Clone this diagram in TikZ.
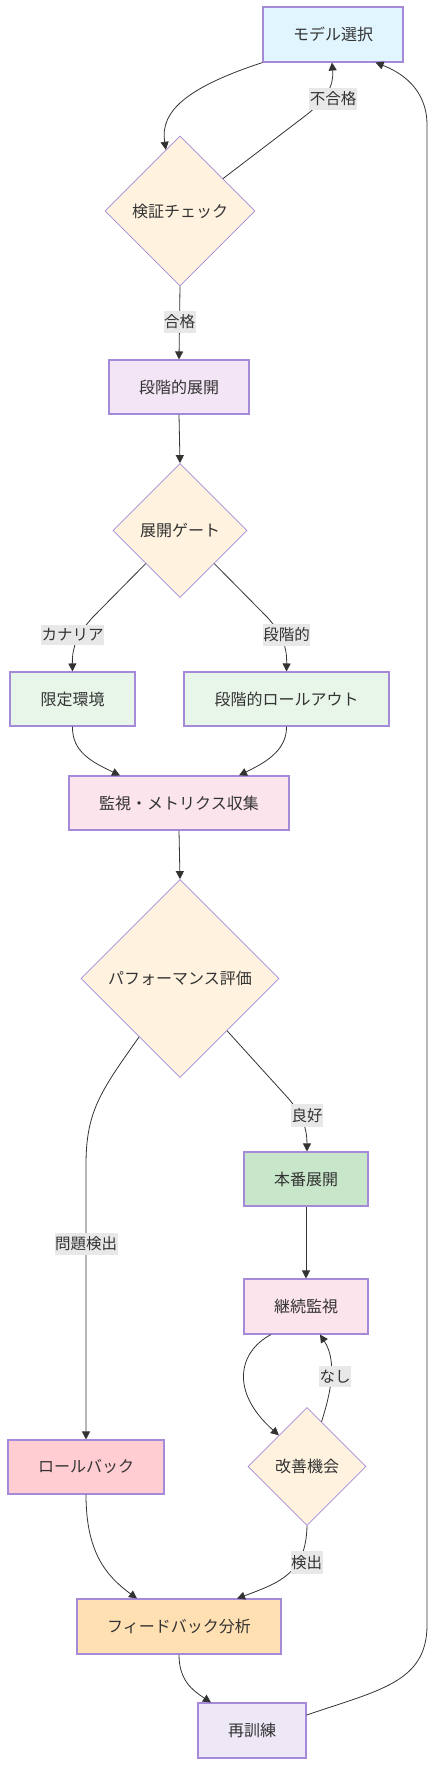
\documentclass[tikz,border=0pt]{standalone}
\usepackage{fontspec}
\setmainfont{Noto Sans CJK JP}
\usetikzlibrary{shapes.geometric,arrows.meta}
\definecolor{txt}{HTML}{333333}
\definecolor{edgec}{HTML}{333333}
\definecolor{bord}{HTML}{A48AD8}
\definecolor{lblbg}{HTML}{E8E8E8}
\definecolor{cblue}{HTML}{E1F5FE}
\definecolor{corange}{HTML}{FFF3E0}
\definecolor{cpurple}{HTML}{F3E5F5}
\definecolor{cgreen}{HTML}{E8F5E9}
\definecolor{cpink}{HTML}{FCE4EC}
\definecolor{cgreen2}{HTML}{C8E6C9}
\definecolor{cred}{HTML}{FFCDD2}
\definecolor{cpeach}{HTML}{FFE0B2}
\definecolor{clav}{HTML}{EDE7F6}
\tikzset{
  box/.style={rectangle, draw=bord, line width=1.1pt, inner sep=0pt, text=txt,
    font=\fontsize{16}{19}\selectfont, minimum height=54pt},
  dia/.style={diamond, aspect=1, draw=bord, line width=0.7pt, inner sep=0pt, text=txt,
    fill=corange, font=\fontsize{16}{19}\selectfont, minimum width=#1, minimum height=#1},
  lbl/.style={fill=lblbg, text=txt, inner xsep=0.5pt, inner ysep=4pt,
    font=\fontsize{15.5}{18}\selectfont},
  conn/.style={draw=edgec, line width=0.8pt, -{Triangle[length=8pt,width=8pt]}},
}
\begin{document}
\begin{tikzpicture}[x=1pt,y=-1pt]
\useasboundingbox (0,0) rectangle (436,1766);
\fill[white] (0,0) rectangle (436,1766);

% nodes
\node[box, fill=cblue, minimum width=140pt, minimum height=55pt] (sel) at (333,34.5) {モデル選択};
\node[dia=150pt] (chk) at (180,211) {検証チェック};
\node[box, fill=cpurple, minimum width=140pt] (stg) at (179,387) {段階的展開};
\node[dia=134pt] (gate) at (180,530.5) {展開ゲート};
\node[box, fill=cgreen, minimum width=125pt] (can) at (72.5,699) {限定環境};
\node[box, fill=cgreen, minimum width=205pt] (roll) at (286.5,699) {段階的ロールアウト};
\node[box, fill=cpink, minimum width=220pt] (mon) at (179,803) {監視・メトリクス収集};
\node[dia=198pt] (perf) at (180,978.5) {パフォーマンス評価};
\node[box, fill=cgreen2, minimum width=124pt] (prod) at (306,1179) {本番展開};
\node[box, fill=cpink, minimum width=124pt, minimum height=55pt] (cont) at (306,1306.5) {継続監視};
\node[dia=118pt] (imp) at (307,1466.5) {改善機会};
\node[box, fill=cred, minimum width=156pt] (rb) at (86,1467) {ロールバック};
\node[box, fill=cpeach, minimum width=204pt, minimum height=55pt] (fb) at (179,1626.5) {フィードバック分析};
\node[box, fill=clav, minimum width=108pt, minimum height=55pt] (re) at (252,1730.5) {再訓練};

% edges
\draw[conn] (sel.south west) .. controls (185,88) and (160,112) .. (chk.103);
\draw[conn] (chk.37) -- (305,116) .. controls (326,100) and (334,86) .. ([xshift=-1pt]sel.south);
\draw[conn] (chk.south) -- (stg.north);
\draw[conn] (stg.south) -- (gate.north);
\draw[conn] (gate.224) -- (92,618) .. controls (78,634) and (72,646) .. (can.north);
\draw[conn] (gate.316) -- (268,618) .. controls (282,634) and (287,646) .. (roll.north);
\draw[conn] (can.south) .. controls (72,752) and (92,762) .. ([xshift=-59pt]mon.north);
\draw[conn] (roll.south) .. controls (287,752) and (262,764) .. ([xshift=60pt]mon.north);
\draw[conn] (mon.south) -- (perf.north);
\draw[conn] (perf.312) -- (288,1098) .. controls (302,1114) and (307,1128) .. ([xshift=1pt]prod.north);
\draw[conn] (perf.235) .. controls (100,1092) and (86,1112) .. (86,1165) -- (rb.north);
\draw[conn] (prod.south) -- (cont.north);
\draw[conn] ([xshift=-35pt]cont.south) .. controls (238,1352) and (230,1392) .. (imp.132);
\draw[conn] (imp.72) .. controls (330,1395) and (338,1362) .. ([xshift=14pt]cont.south);
\draw[conn] (imp.south) .. controls (306,1572) and (282,1582) .. ([xshift=58pt]fb.north);
\draw[conn] (rb.south) .. controls (86,1552) and (106,1576) .. ([xshift=-42pt]fb.north);
\draw[conn] (fb.south) .. controls (179,1680) and (192,1690) .. ([xshift=-41pt]re.north);
\draw[conn] ([yshift=15.5pt]re.east) .. controls (380,1690) and (427,1682) .. (427,1625) -- (427,125) .. controls (427,88) and (400,72) .. ([xshift=-28pt]sel.south east);

% edge labels
\node[lbl] (l1) at (333,99) {不合格};
\node[lbl] (l2) at (179.5,322) {合格};
\node[lbl] (l3) at (72.5,635) {カナリア};
\node[lbl] (l4) at (286.5,635) {段階的};
\node[lbl] (l5) at (307,1115.5) {良好};
\node[lbl] (l6) at (86,1244) {問題検出};
\node[lbl] (l7) at (335,1376.5) {なし};
\node[lbl] (l8) at (306.5,1562.5) {検出};
\end{tikzpicture}
\end{document}
